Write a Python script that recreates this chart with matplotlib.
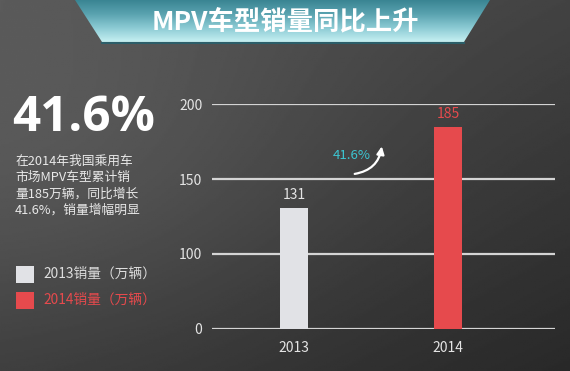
import matplotlib
matplotlib.use("Agg")
import matplotlib.pyplot as plt
import numpy as np
from matplotlib.patches import Polygon, Rectangle
from matplotlib.colors import LinearSegmentedColormap

plt.rcParams['font.family'] = ['Noto Sans CJK SC', 'DejaVu Sans']

# 数据
years = ["2013", "2014"]
sales = [131, 185]          # 万辆
bar_colors = ["#e1e2e6", "#e64a4d"]
yticks = [0, 100, 150, 200]
growth = "41.6%"
title = "MPV车型销量同比上升"
desc = "在2014年我国乘用车\n市场MPV车型累计销\n量185万辆，同比增长\n41.6%，销量增幅明显"
legend_labels = ["2013销量（万辆）", "2014销量（万辆）"]


def fwd(v):
    v = np.asarray(v, dtype=float)
    return np.where(v <= 100, v / 100, 1 + (v - 100) / 50)


def inv(p):
    p = np.asarray(p, dtype=float)
    return np.where(p <= 1, p * 100, 100 + (p - 1) * 50)


fig = plt.figure(figsize=(5.7, 3.71), dpi=100)

# 背景渐变
bg = fig.add_axes([0, 0, 1, 1], zorder=-5)
yy, xx = np.mgrid[0:1:200j, 0:1:300j]
shade = 0.33 - 0.10 * yy - 0.07 * xx + 0.06 * np.exp(-((xx - 0.1) ** 2 + (yy - 0.45) ** 2) * 4)
bg.imshow(shade, cmap="gray", vmin=0, vmax=1, extent=[0, 1, 1, 0], aspect="auto")

# 标题条
hb = 0.113
band = np.linspace(0, 1, 100)[:, None] * np.ones((1, 10))
teal = LinearSegmentedColormap.from_list("teal", ["#3a8593", "#5aa3b0", "#8ccbd4", "#c6f0f2"])
band_img = bg.imshow(band, cmap=teal, extent=[0, 1, hb, 0], aspect="auto")
trap = Polygon([(75 / 570, 0), (490 / 570, 0), (464 / 570, hb), (102 / 570, hb)],
               closed=True, facecolor="none", edgecolor="none", transform=bg.transData)
bg.add_patch(trap)
band_img.set_clip_path(trap)
bg.plot([102 / 570, 464 / 570], [hb + 0.003, hb + 0.003], color="#2b5f6a", lw=1.4)
bg.set_xlim(0, 1)
bg.set_ylim(1, 0)
bg.axis("off")
fig.text(0.5, 1 - 23 / 371, title, ha="center", va="center", color="white",
         fontsize=19, fontweight="bold")

# 左侧文字
fig.text(12 / 570, 1 - 119 / 371, growth, ha="left", va="center", color="white",
         fontsize=35.5, fontweight="bold", family=["Open Sans", "DejaVu Sans"])
fig.text(15 / 570, 1 - 155 / 371, desc, ha="left", va="top", color="#e8e8e8",
         fontsize=9.2, linespacing=1.32)

# 图例
for i, (lab, c) in enumerate(zip(legend_labels, bar_colors)):
    yc = 274 + 26 * i
    fig.patches.append(Rectangle((16 / 570, 1 - (yc + 8.5) / 371), 18 / 570, 17 / 371,
                                 transform=fig.transFigure, facecolor=c, edgecolor="none"))
    fig.text(43 / 570, 1 - yc / 371, lab, ha="left", va="center",
             color="#dddddd" if i == 0 else c, fontsize=9.9)

# 柱状图
ax = fig.add_axes([212 / 570, 1 - 328.7 / 371, 343 / 570, 224.4 / 371])
ax.set_facecolor("none")
ax.set_yscale("function", functions=(fwd, inv))
x = np.arange(len(years))
bars = ax.bar(x, sales, width=0.184, color=bar_colors, zorder=3)
ax.set_ylim(0, 200)
ax.set_xlim(-0.532, 1.695)
ax.set_yticks(yticks)
ax.set_yticklabels([str(t) for t in yticks])
ax.set_xticks(x)
ax.set_xticklabels(years)
ax.yaxis.grid(True, color="#d4d4d4", lw=1.6, zorder=1)
ax.tick_params(axis="both", length=0, colors="#e4e4e4", labelsize=10)
ax.tick_params(axis="y", pad=7)
ax.tick_params(axis="x", pad=9)
for s in ax.spines.values():
    s.set_visible(False)

labs = ax.bar_label(bars, labels=[str(v) for v in sales], padding=4, fontsize=10)
for t, c in zip(labs, ["#e4e4e4", bar_colors[1]]):
    t.set_color(c)

ax.text(0.408, 0.774, growth, transform=ax.transAxes, ha="center", va="center",
        color="#3cc6d2", fontsize=9.5)
ax.annotate("", xy=(0.496, 0.825), xytext=(0.408, 0.688), xycoords="axes fraction",
            textcoords="axes fraction",
            arrowprops=dict(arrowstyle="-|>,head_length=0.45,head_width=0.22", color="white",
                            lw=1.6, connectionstyle="arc3,rad=0.4"))

fig.savefig("out.png", dpi=100)
